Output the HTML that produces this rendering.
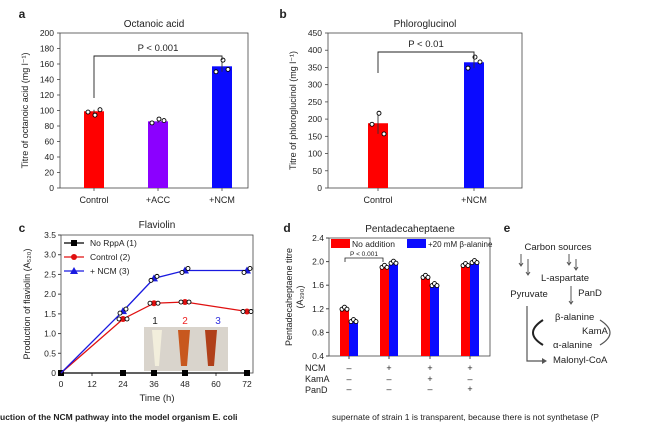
<!DOCTYPE html>
<html><head><meta charset="utf-8"><style>
body{margin:0;background:#fff;width:656px;height:422px;overflow:hidden}
svg text{font-family:"Liberation Sans",sans-serif;fill:#222}
</style></head><body>
<svg id="s" width="656" height="422" viewBox="0 0 656 422"></svg>
<script>
const aCats=["Control","+ACC","+NCM"];
const aVals=[99,86,157];
const aPts=[[98,94,101],[84,89,87],[150,165,153]];
const bCats=["Control","+NCM"];
const bVals=[188,365];
const bPts=[[185,217,157],[348,380,366]];
const cX=[0,24,36,48,72];
const cBlack=[0,0,0,0,0];
const cRed=[0,1.37,1.77,1.8,1.56];
const cBlue=[0,1.57,2.4,2.6,2.6];
const cTicksX=[0,12,24,36,48,60,72];
const cTicksY=[0,0.5,1.0,1.5,2.0,2.5,3.0,3.5];
const dRed=[1.21,1.92,1.75,1.95];
const dBlue=[1.0,1.99,1.61,2.0];
const dTicks=[0.4,0.8,1.2,1.6,2.0,2.4];
const dNCM=["–","+","+","+"],dKam=["–","–","+","–"],dPan=["–","–","–","+"];
const aTicks=[0,20,40,60,80,100,120,140,160,180,200];
const bTicks=[0,50,100,150,200,250,300,350,400,450];

const S=document.getElementById('s');const NS="http://www.w3.org/2000/svg";
function el(t,a,txt){const e=document.createElementNS(NS,t);for(const k in a)e.setAttribute(k,a[k]);if(txt!==undefined)e.textContent=txt;S.appendChild(e);return e;}
function T(x,y,s,size,anchor,extra){const e=el('text',Object.assign({x:x,y:y,'font-size':size||9,'text-anchor':anchor||'middle'},extra||{}),s);return e;}
function circ(x,y){el('circle',{cx:x,cy:y,r:2,fill:'#fff',stroke:'#000','stroke-width':0.9});}

[["a",22,18],["b",283,18],["c",22,232],["d",287,232],["e",507,232]].forEach(p=>{const t=T(p[1],p[2],p[0],12,'middle',{'font-weight':'bold'});});

function barPanel(name,x0,x1,yTop,yBot,max,ticks,cats,vals,pts,colors,centers,title,ylab,ptxt,brk){
  const y=v=>yBot-(v/max)*(yBot-yTop);
  const fr=el('rect',{x:x0,y:yTop,width:x1-x0,height:yBot-yTop,fill:'none',stroke:'#444','stroke-width':0.8});
  
  ticks.forEach(t=>{el('line',{x1:x0-3,x2:x0,y1:y(t),y2:y(t),stroke:'#444','stroke-width':0.8});T(x0-6,y(t)+3,String(t),8.5,'end');});
  vals.forEach((v,i)=>{const cx=centers[i];
    const r=el('rect',{x:cx-10,y:y(v),width:20,height:yBot-y(v),fill:colors[i]});
    
    const p=pts[i];const m=Math.max(...p),n=Math.min(...p);
    el('line',{x1:cx,x2:cx,y1:y(m),y2:y(n),stroke:'#333','stroke-width':0.9});
    circ(cx-6,y(p[0]));circ(cx+1,y(p[1]));circ(cx+6,y(p[2]));
    el('line',{x1:cx,x2:cx,y1:yBot,y2:yBot+3,stroke:'#444','stroke-width':0.8});
    T(cx,yBot+15,cats[i],9);});
  T((x0+x1)/2,yTop-6,title,10);
  T(0,0,ylab,9,'middle',{transform:`translate(${x0-32},${(yTop+yBot)/2}) rotate(-90)`});
  const c0=centers[0],c1=centers[centers.length-1];
  el('path',{d:`M${c0},${brk[0]}V${brk[1]}H${c1}V${brk[2]}`,fill:'none',stroke:'#222','stroke-width':0.9});
  T((c0+c1)/2,brk[1]-5,ptxt,9.5);
}
barPanel('octanoic',60,248,33,188,200,aTicks,aCats,aVals,aPts,['#f00','#8b00ff','#0a0aff'],[94,158,222],'Octanoic acid','Titre of octanoic acid (mg l⁻¹)','P < 0.001',[98,56,60]);
barPanel('phloroglucinol',328,522,33,188,450,bTicks,bCats,bVals,bPts,['#f00','#0a0aff'],[378,474],'Phloroglucinol','Titre of phloroglucinol (mg l⁻¹)','P < 0.01',[73,52,58]);

(function(){
  const x0=61,x1=253,yT=235,yB=373;const X=v=>61+v/72*186;const Y=v=>yB-v/3.5*(yB-yT);
  const fr=el('rect',{x:x0,y:yT,width:x1-x0,height:yB-yT,fill:'none',stroke:'#444','stroke-width':0.8});
  
  cTicksY.forEach(t=>{el('line',{x1:x0-3,x2:x0,y1:Y(t),y2:Y(t),stroke:'#444'});T(x0-5,Y(t)+3,t===0?'0':t.toFixed(1),8.5,'end');});
  cTicksX.forEach(t=>{el('line',{x1:X(t),x2:X(t),y1:yB,y2:yB+3,stroke:'#444'});T(X(t),yB+14,String(t),8.5);});
  T(157,228,'Flaviolin',10);T(157,401,'Time (h)',9.5);
  T(0,0,'Production of flaviolin (A₅₂₀)',9,'middle',{transform:`translate(30,${(yT+yB)/2}) rotate(-90)`});
  const ph=el('rect',{x:144,y:327,width:84,height:44,fill:'#d9d4cc'});
  el('path',{d:'M152,330h10l-3,36h-4z',fill:'#f2eedc'});
  el('path',{d:'M178,330h12l-3,36h-6z',fill:'#c8581e'});
  el('path',{d:'M205,330h12l-3,36h-6z',fill:'#b0401a'});
  T(155,324,'1',10,'middle',{fill:'#222'});T(185,324,'2',10,'middle',{style:'fill:#e22'});T(218,324,'3',10,'middle',{style:'fill:#33d'});
  function series(vals,col,mk,nm){
    const pl=el('polyline',{points:cX.map((x,i)=>X(x)+','+Y(vals[i])).join(' '),fill:'none',stroke:col,'stroke-width':1.3});
    
    cX.forEach((x,i)=>{if(x===0&&nm!=='no-rppa')return;const cx=X(x),cy=Y(vals[i]);
      if(mk==='s')el('rect',{x:cx-3,y:cy-3,width:6,height:6,fill:col});
      else if(mk==='c'){el('circle',{cx:cx,cy:cy,r:3,fill:col});circ(cx-4,cy);circ(cx+4,cy);}
      else {el('path',{d:`M${cx},${cy-4}L${cx+4},${cy+3}H${cx-4}z`,fill:col});circ(cx-3,cy+2);circ(cx+3,cy-2);}});
  }
  series(cBlack,'#000','s','no-rppa');series(cRed,'#e01010','c','control');series(cBlue,'#1a1ae0','t','ncm');
  [['No RppA (1)','#000','s',243],['Control (2)','#e01010','c',257],['+ NCM (3)','#1a1ae0','t',271]].forEach((l,i)=>{
    el('line',{x1:64,x2:84,y1:l[3],y2:l[3],stroke:l[1],'stroke-width':1.3});
    if(l[2]==='s')el('rect',{x:71,y:l[3]-3,width:6,height:6,fill:l[1]});else if(l[2]==='c')el('circle',{cx:74,cy:l[3],r:3,fill:l[1]});else el('path',{d:`M74,${l[3]-4}L78,${l[3]+3}H70z`,fill:l[1]});
    const t=T(90,l[3]+3,l[0],8.5,'start');});
})();

(function(){
  const x0=329,x1=490,yT=238,yB=356;const Y=v=>yB-(v-0.4)/2.0*(yB-yT);const C=[349,389,430,470];
  const fr=el('rect',{x:x0,y:yT,width:x1-x0,height:yB-yT,fill:'none',stroke:'#444','stroke-width':0.8});
  
  dTicks.forEach(t=>{el('line',{x1:x0-3,x2:x0,y1:Y(t),y2:Y(t),stroke:'#444'});T(x0-5,Y(t)+3,t.toFixed(1),8.5,'end');});
  T(410,232,'Pentadecaheptaene',10);
  T(0,0,'Pentadecaheptaene titre',9,'middle',{transform:`translate(292,297) rotate(-90)`});
  T(0,0,'(A₃₉₀)',9,'middle',{transform:`translate(303,297) rotate(-90)`});
  C.forEach((c,i)=>{
    const r=el('rect',{x:c-9,y:Y(dRed[i]),width:9,height:yB-Y(dRed[i]),fill:'#f00'});
    const b=el('rect',{x:c,y:Y(dBlue[i]),width:9,height:yB-Y(dBlue[i]),fill:'#0a0aff'});
    [-7,-4.5,-2].forEach((o,k)=>circ(c+o,Y(dRed[i])+(k===1?-1:1)));[2,4.5,7].forEach((o,k)=>circ(c+o,Y(dBlue[i])+(k===1?-1:1)));
    el('line',{x1:c,x2:c,y1:yB,y2:yB+3,stroke:'#444'});
    T(c,371,dNCM[i],9);T(c,382,dKam[i],9);T(c,392,dPan[i],9);});
  T(305,371,'NCM',9,'start');T(305,382,'KamA',9,'start');T(305,393,'PanD',9,'start');
  el('rect',{x:331,y:239,width:19,height:9,fill:'#f00'});T(352,247,'No addition',8.5,'start');
  el('rect',{x:407,y:239,width:19,height:9,fill:'#0a0aff'});T(428,247,'+20 mM β-alanine',8,'start');
  el('path',{d:'M345,262V258H383V262',fill:'none',stroke:'#222','stroke-width':0.8});T(364,256,'P < 0.001',6.5);
})();

(function(){
  const g='#555';
  [['Carbon sources',558,250],['Pyruvate',529,297],['L-aspartate',565,281],['PanD',590,296],['β-alanine',555,320,'start'],['KamA',582,334,'start'],['α-alanine',553,348,'start'],['Malonyl-CoA',553,363,'start']].forEach(t=>T(t[1],t[2],t[0],9.5,t[3]||'middle'));
  [[521,254,266],[528,259,275],[569,254,265],[576,259,270],[571,286,304]].forEach(a=>{el('line',{x1:a[0],x2:a[0],y1:a[1],y2:a[2],stroke:g});el('path',{d:`M${a[0]-2},${a[2]-3}L${a[0]},${a[2]}L${a[0]+2},${a[2]-3}`,fill:'none',stroke:g});});
  el('path',{d:'M527,306V361H545',fill:'none',stroke:g,'stroke-width':1.2});el('path',{d:'M542,358L547,361L542,364',fill:g});
  el('path',{d:'M543,320Q523,333 543,345',fill:'none',stroke:'#222','stroke-width':2});
  el('path',{d:'M600,320Q620,333 600,345',fill:'none',stroke:g,'stroke-width':1.2});
})();

T(0,420,'uction of the NCM pathway into the model organism E. coli',8.5,'start',{'font-weight':'bold'});
T(332,420,'supernate of strain 1 is transparent, because there is not synthetase (P',8.5,'start');
</script>
</body></html>
